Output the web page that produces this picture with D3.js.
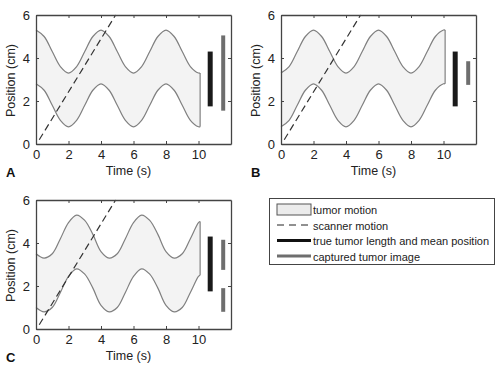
<!DOCTYPE html>
<html>
<head>
<meta charset="utf-8">
<script src="https://cdn.jsdelivr.net/npm/d3@7"></script>
<style>
  body { margin: 0; background: #fff; }
  svg { display: block; font-family: Arial, "Liberation Sans", sans-serif; }
</style>
</head>
<body>
<svg id="fig" width="500" height="374"></svg>
<script>
// temps (s) des points
var temps = [0, 0.5, 1, 1.5, 2, 2.5, 3, 3.5, 4, 4.5, 5, 5.5, 6, 6.5, 7, 7.5, 8, 8.5, 9, 9.5, 10, 10.1];

// bord haut / bas de la tumeur, panneau A
var hautA = [5.3, 5.0, 4.3, 3.6, 3.3, 3.6, 4.3, 5.0, 5.3, 5.0, 4.3, 3.6, 3.3, 3.6, 4.3, 5.0, 5.3, 5.0, 4.3, 3.6, 3.3, 3.3];
var basA  = [2.8, 2.5, 1.8, 1.1, 0.8, 1.1, 1.8, 2.5, 2.8, 2.5, 1.8, 1.1, 0.8, 1.1, 1.8, 2.5, 2.8, 2.5, 1.8, 1.1, 0.8, 0.8];
// panneau B
var hautB = [3.3, 3.6, 4.3, 5.0, 5.3, 5.0, 4.3, 3.6, 3.3, 3.6, 4.3, 5.0, 5.3, 5.0, 4.3, 3.6, 3.3, 3.6, 4.3, 5.0, 5.3, 5.3];
var basB  = [0.8, 1.1, 1.8, 2.5, 2.8, 2.5, 1.8, 1.1, 0.8, 1.1, 1.8, 2.5, 2.8, 2.5, 1.8, 1.1, 0.8, 1.1, 1.8, 2.5, 2.8, 2.8];
// panneau C
var hautC = [3.5, 3.3, 3.5, 4.2, 4.95, 5.3, 5.05, 4.4, 3.6, 3.3, 3.5, 4.2, 4.95, 5.3, 5.05, 4.4, 3.6, 3.3, 3.5, 4.2, 4.95, 5.0];
var basC  = [1.0, 0.8, 1.0, 1.7, 2.45, 2.8, 2.55, 1.9, 1.1, 0.8, 1.0, 1.7, 2.45, 2.8, 2.55, 1.9, 1.1, 0.8, 1.0, 1.7, 2.45, 2.5];

// mouvement du scanner (t, position)
var scanner = [[0.2, 0.2], [4.9, 6]];

// barres : vraie tumeur (noir) et image capturée (gris)
var vraieTumeur = [1.75, 4.3];
var imageA = [[1.55, 5.05]];
var imageB = [[2.75, 3.85]];
var imageC = [[2.75, 4.15], [0.8, 1.9]];

var ticksX = [0, 2, 4, 6, 8, 10];
var ticksY = [0, 2, 4, 6];

var legende = ["tumor motion", "scanner motion", "true tumor length and mean position", "captured tumor image"];

const svg = d3.select('#fig');

function dessine_panneau(x0, y0, haut, bas, image, lettre){
    var w = 195, h = 129;
    var g = svg.append('g').attr('transform', 'translate(' + x0 + ',' + y0 + ')');

    var x = d3.scaleLinear().domain([0, 12]).range([0, w]);
    var y = d3.scaleLinear().domain([0, 6]).range([h, 0]);

    // zone de mouvement de la tumeur
    var pts = temps.map(function(t, i){ return [t, haut[i], bas[i]]; });
    var aire = d3.area()
        .x(d => x(d[0]))
        .y0(d => y(d[2]))
        .y1(d => y(d[1]))
        .curve(d3.curveCatmullRom);
    g.append('path')
        .datum(pts)
        .attr('d', aire)
        .attr('fill', '#f3f3f3')
        .attr('stroke', 'none');
    var ligne = d3.line().x(d => x(d[0])).y(d => y(d[1])).curve(d3.curveCatmullRom);
    g.append('path').datum(pts.map(d => [d[0], d[1]])).attr('d', ligne)
        .attr('fill', 'none').attr('stroke', '#808080').attr('stroke-width', 1.2);
    g.append('path').datum(pts.map(d => [d[0], d[2]])).attr('d', ligne)
        .attr('fill', 'none').attr('stroke', '#808080').attr('stroke-width', 1.2);
    var fin = pts[pts.length - 1];
    g.append('line')
        .attr('x1', x(fin[0])).attr('x2', x(fin[0]))
        .attr('y1', y(fin[1])).attr('y2', y(fin[2]))
        .attr('stroke', '#808080').attr('stroke-width', 1.2);

    // scanner
    g.append('path')
        .datum(scanner)
        .attr('d', d3.line().x(d => x(d[0])).y(d => y(d[1])))
        .attr('stroke', '#333').attr('stroke-width', 1.2)
        .attr('stroke-dasharray', '7,4').attr('fill', 'none');

    // barres
    g.append('line')
        .attr('x1', x(10.72)).attr('x2', x(10.72))
        .attr('y1', y(vraieTumeur[0])).attr('y2', y(vraieTumeur[1]))
        .attr('stroke', '#1a1a1a').attr('stroke-width', 5);
    g.selectAll('.img').data(image).enter().append('line')
        .attr('x1', x(11.52)).attr('x2', x(11.52))
        .attr('y1', d => y(d[0])).attr('y2', d => y(d[1]))
        .attr('stroke', '#6e6e6e').attr('stroke-width', 4);

    // axes en boite, graduations vers l'intérieur
    g.append('g').attr('transform', 'translate(0,' + h + ')')
        .call(d3.axisBottom(x).tickValues(ticksX).tickFormat(d3.format('d'))
            .tickSizeInner(-3).tickSizeOuter(0).tickPadding(6));
    g.append('g')
        .call(d3.axisLeft(y).tickValues(ticksY).tickFormat(d3.format('d'))
            .tickSizeInner(-3).tickSizeOuter(0).tickPadding(6));
    g.append('g').attr('transform', 'translate(' + w + ',0)')
        .call(d3.axisRight(y).tickValues(ticksY).tickSizeInner(-3).tickSizeOuter(0).tickFormat(''));
    g.append('g')
        .call(d3.axisTop(x).tickValues(ticksX).tickSizeInner(-3).tickSizeOuter(0).tickFormat(''));
    g.selectAll('.domain').attr('stroke', '#444').attr('stroke-width', 1.3);
    g.selectAll('.tick line').attr('stroke', '#444');
    g.selectAll('.tick text').attr('font-size', 13).attr('fill', '#222')
        .attr('font-family', 'Arial, "Liberation Sans", sans-serif');

    g.append('text')
        .attr('x', w / 2 - 5).attr('y', h + 31)
        .attr('text-anchor', 'middle').attr('font-size', 12.5).attr('fill', '#222')
        .text('Time (s)');
    g.append('text')
        .attr('transform', 'translate(-21,' + (h / 2 + 1) + ') rotate(-90)')
        .attr('text-anchor', 'middle').attr('font-size', 12.5).attr('fill', '#222')
        .text('Position (cm)');
    g.append('text')
        .attr('x', -30).attr('y', h + 33)
        .attr('font-size', 13).attr('font-weight', 'bold').attr('fill', '#111')
        .text(lettre);
}

dessine_panneau(36, 15, hautA, basA, imageA, 'A');
dessine_panneau(281, 15, hautB, basB, imageB, 'B');
dessine_panneau(36, 200, hautC, basC, imageC, 'C');

// légende
var leg = svg.append('g').attr('transform', 'translate(269,198)');
leg.append('rect').attr('x', 0.5).attr('y', 0.5).attr('width', 225).attr('height', 66)
    .attr('fill', '#fff').attr('stroke', '#444').attr('stroke-width', 1);
leg.append('rect').attr('x', 8).attr('y', 6).attr('width', 34).attr('height', 11)
    .attr('fill', '#ececec').attr('stroke', '#555').attr('stroke-width', 1);
leg.append('line').attr('x1', 8).attr('x2', 42).attr('y1', 27).attr('y2', 27)
    .attr('stroke', '#222').attr('stroke-width', 1).attr('stroke-dasharray', '7,5');
leg.append('line').attr('x1', 8).attr('x2', 42).attr('y1', 42.5).attr('y2', 42.5)
    .attr('stroke', '#111').attr('stroke-width', 3);
leg.append('line').attr('x1', 8).attr('x2', 42).attr('y1', 58).attr('y2', 58)
    .attr('stroke', '#6e6e6e').attr('stroke-width', 3);
leg.selectAll('.lab').data(legende).enter().append('text')
    .attr('x', 44).attr('y', (d, i) => 16 + i * 15.5)
    .attr('font-size', 11).attr('fill', '#222')
    .text(d => d);
</script>
</body>
</html>
